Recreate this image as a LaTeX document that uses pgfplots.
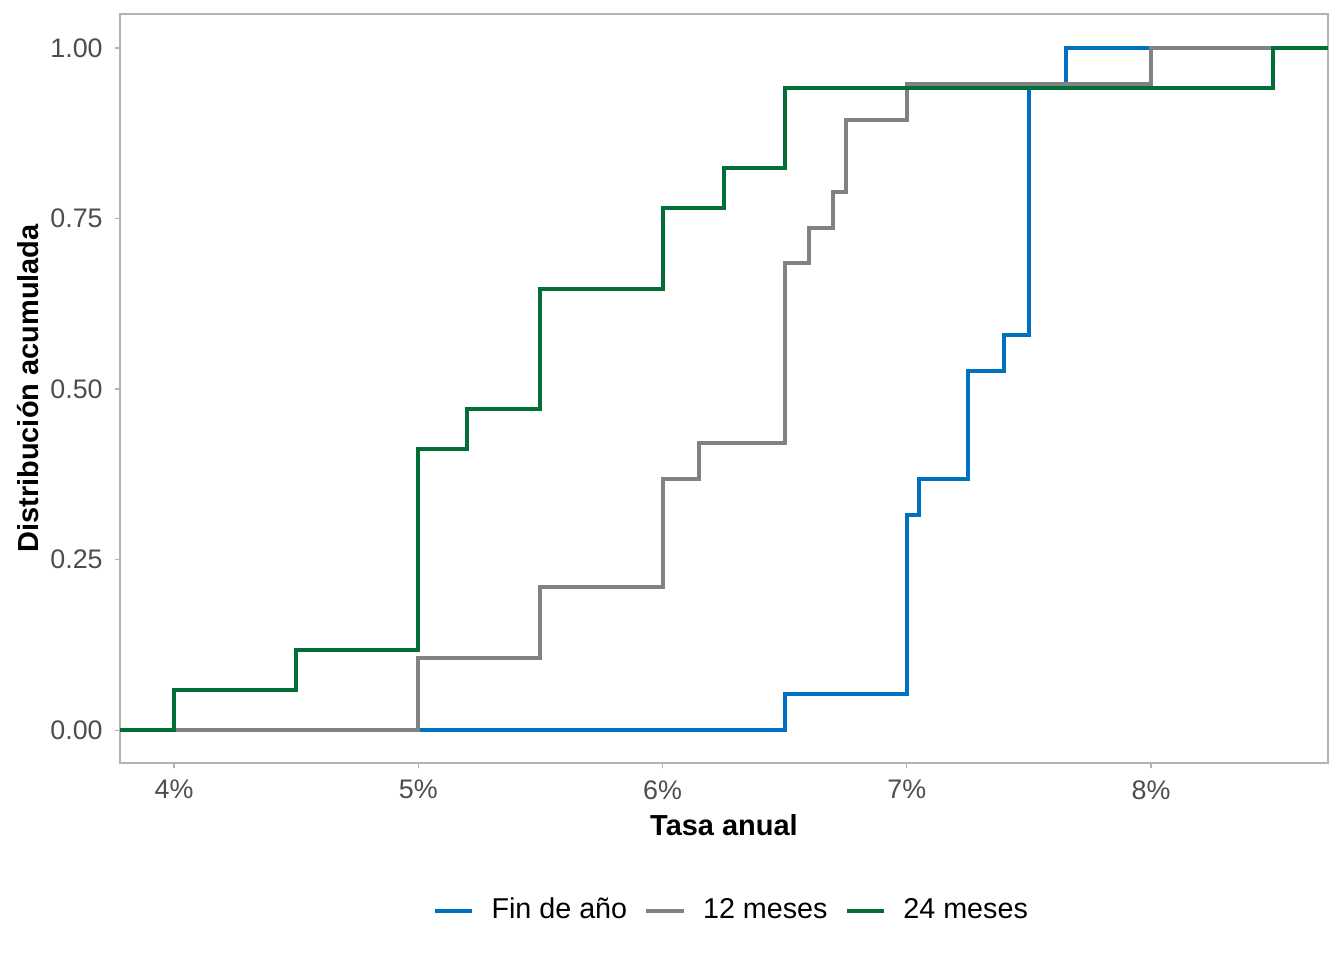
\documentclass[border=0pt]{standalone}
\usepackage{pgfplots}
\pgfplotsset{compat=1.18}
\usepackage{fontspec}
\setmainfont{Liberation Sans}
\definecolor{cblue}{HTML}{0070C0}
\definecolor{cgray}{HTML}{808285}
\definecolor{cgreen}{HTML}{006E35}
\definecolor{frame}{HTML}{B3B3B3}
\definecolor{ticktext}{HTML}{4D4D4D}
\begin{document}
\begin{tikzpicture}
\path[use as bounding box] (0,0) rectangle (504bp,360bp);
\begin{axis}[
  at={(45bp,73.9bp)}, anchor=south west,
  scale only axis,
  width=453bp, height=280.9bp,
  xmin=3.779, xmax=8.7245,
  ymin=-0.048, ymax=1.05,
  xtick={4,5,6,7,8},
  xticklabels={4\%,5\%,6\%,7\%,8\%},
  ytick={0,0.25,0.5,0.75,1},
  yticklabel style={/pgf/number format/fixed, /pgf/number format/fixed zerofill,
    /pgf/number format/precision=2, xshift=-1bp},
  /pgf/number format/assume math mode=true,
  axis line style={frame, line width=0.5bp},
  tick style={frame, line width=0.5bp},
  tick align=outside,
  major tick length=2bp,
  xtick pos=bottom, ytick pos=left,
  tick label style={font=\fontsize{10.1}{12}\selectfont, text=ticktext},
  xticklabel style={yshift=-1bp},
  xlabel={Tasa anual},
  ylabel={Distribución acumulada},
  label style={font=\fontsize{10.9}{13}\selectfont\bfseries},
  xlabel style={at={(axis description cs:0.5,-0.083)}, anchor=center},
  ylabel style={at={(axis description cs:-0.0762,0.5)}, anchor=center},
  legend columns=3,
  legend style={draw=none, at={(0.5075,-0.197)}, anchor=center,
    font=\fontsize{10.8}{13}\selectfont,
    /tikz/every odd column/.append style={column sep=4.5bp},
    /tikz/every even column/.append style={column sep=4.5bp}},
  legend image code/.code={\draw[#1] (0bp,0bp) -- (14bp,0bp);},
  every axis plot/.append style={line width=1.5bp, const plot},
]
\addplot[cblue] coordinates {
  (3.779,0) (6.5,0.0526) (7.0,0.3158) (7.05,0.3684) (7.25,0.5263)
  (7.4,0.5789) (7.5,0.9474) (7.65,1) (8.7245,1)
};
\addlegendentry{Fin de año}
\addplot[cgray] coordinates {
  (3.779,0) (5.0,0.1053) (5.5,0.2105) (6.0,0.3684) (6.15,0.4211)
  (6.5,0.6842) (6.6,0.7368) (6.7,0.7895) (6.75,0.8947) (7.0,0.9474)
  (8.0,1) (8.7245,1)
};
\addlegendentry{12 meses}
\addplot[cgreen] coordinates {
  (3.779,0) (4.0,0.0588) (4.5,0.1176) (5.0,0.4118) (5.2,0.4706)
  (5.5,0.6471) (6.0,0.7647) (6.25,0.8235) (6.5,0.9412) (8.5,1)
  (8.7245,1)
};
\addlegendentry{24 meses}
\end{axis}
\end{tikzpicture}
\end{document}
